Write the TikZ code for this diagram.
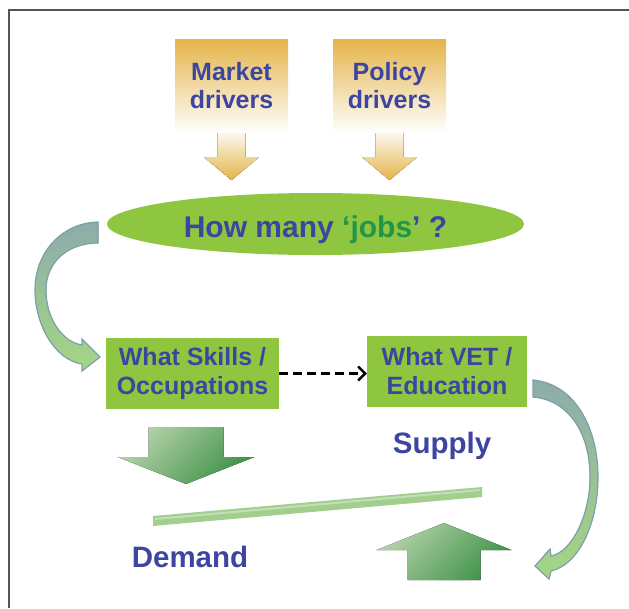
\documentclass[tikz,border=0pt]{standalone}
\usepackage{fontspec}
\setmainfont{Liberation Sans}
\usetikzlibrary{positioning,shapes.geometric,arrows.meta,calc}

\definecolor{txtblue}{RGB}{60,70,160}
\definecolor{jobgreen}{RGB}{35,150,70}
\definecolor{boxgreen}{RGB}{143,198,64}
\definecolor{driverorange}{RGB}{228,180,72}
\definecolor{arrowlight}{RGB}{182,210,170}
\definecolor{arrowdark}{RGB}{62,146,72}
\definecolor{curveedge}{RGB}{125,160,172}
\definecolor{curvetop}{RGB}{140,172,170}
\definecolor{curvebottom}{RGB}{165,215,130}
\definecolor{barcolor}{RGB}{162,206,142}
\definecolor{framegray}{RGB}{85,85,85}

\begin{document}
\begin{tikzpicture}[x=1pt,y=-1pt]
            \tikzstyle{driver} = [rectangle, minimum width=113pt, minimum height=94pt, inner sep=0pt, align=center, top color=driverorange, bottom color=white, text=txtblue, font=\fontsize{25}{28}\selectfont\bfseries]
            \tikzstyle{question} = [ellipse, minimum width=417pt, minimum height=62pt, inner sep=0pt, fill=boxgreen, text=txtblue, text height=26pt, text depth=0pt, font=\fontsize{30}{34}\selectfont\bfseries]
            \tikzstyle{stepbox} = [rectangle, minimum height=71pt, inner sep=0pt, align=center, fill=boxgreen, text=txtblue, font=\fontsize{25}{29}\selectfont\bfseries]
            \tikzstyle{label} = [text=txtblue, anchor=base, font=\fontsize{29.5}{34}\selectfont\bfseries]
            \tikzstyle{droparrow} = [top color=driverorange!10!white, bottom color=driverorange]
            \tikzstyle{blockarrow} = [top color=arrowlight, bottom color=arrowdark, shading angle=45]
            \tikzstyle{curvearrow} = [draw=curveedge, line width=1.2pt, top color=curvetop, bottom color=curvebottom]
            \tikzstyle{dasharrow} = [black, line width=2.6pt, dash pattern=on 9pt off 5pt, -{Straight Barb[length=7pt,width=14pt,line width=2.4pt]}]

            \useasboundingbox (0,0) rectangle (629,608);
            % Frame
            \draw[framegray, line width=2pt] (9,608) -- (9,10) -- (629,10);

            % Nodes
            \node (market) [driver] at (231.5,86) {Market\\drivers};
            \node (policy) [driver] at (389.5,86) {Policy\\drivers};
            \node (jobs) [question] at (315.5,224) {How many {\color{jobgreen}‘jobs}’ ?};
            \node (skills) [stepbox, minimum width=173pt] at (192.5,373.5) {What Skills /\\Occupations};
            \node (vet) [stepbox, minimum width=160pt] at (447,371.5) {What VET /\\Education};
            \node (supply) [label] at (442,453) {Supply};
            \node (demand) [label] at (190,567) {Demand};

            % Driver arrows
            \foreach \d in {market,policy}
                \fill[droparrow, shift={(\d.south)}] (-14,0) -- (-14,24) -- (-27.5,24) -- (0,47) -- (27.5,24) -- (14,24) -- (14,0) -- cycle;

            % Demand and supply arrows
            \fill[blockarrow, shift={(186,427)}] (-37.5,0) -- (-37.5,30) -- (-68.5,30) -- (0,57) -- (68.5,30) -- (37.5,30) -- (37.5,0) -- cycle;
            \fill[blockarrow, shift={(444,580)}] (-36.5,0) -- (-36.5,-30) -- (-67.5,-30) -- (0,-57) -- (67.5,-30) -- (36.5,-30) -- (36.5,0) -- cycle;

            % Balance bar
            \fill[barcolor] (153,516) -- (482,487) -- (482,497) -- (153,526) -- cycle;
            \draw[barcolor!65!white, line width=2pt] (155,519) -- (480,490);

            % Curved arrows
            \filldraw[curvearrow]
                (98,222) .. controls (62,223) and (35,252) .. (35,290)
                .. controls (35,325) and (55,360) .. (82,364)
                -- (82,371) -- (100,357) -- (82,339) -- (82,345)
                .. controls (62,342) and (46,318) .. (46,290)
                .. controls (46,262) and (68,243) .. (98,243) -- cycle;
            \filldraw[curvearrow]
                (533,380) .. controls (575,384) and (598,428) .. (598,477)
                .. controls (598,525) and (578,565) .. (551,571)
                -- (549,579) -- (535,566) -- (550,549) -- (551,556)
                .. controls (572,552) and (590,515) .. (590,477)
                .. controls (590,432) and (568,400) .. (533,397) -- cycle;

            % Arrows
            \draw [dasharrow] (skills.east) -- (skills.east -| vet.west);
\end{tikzpicture}
\end{document}
